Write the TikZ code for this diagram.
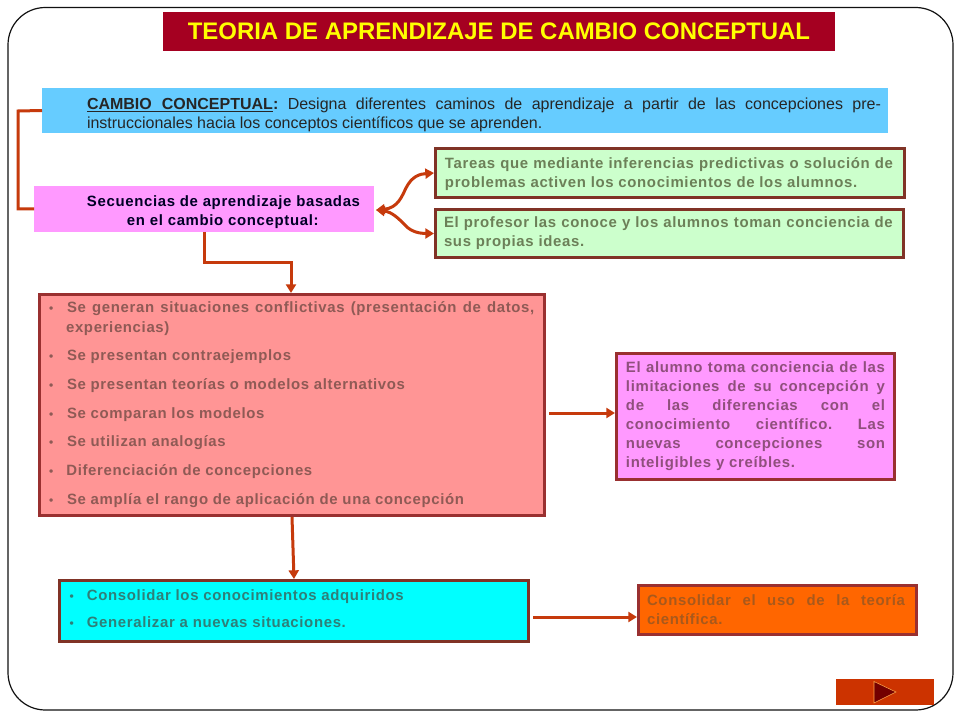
\documentclass[tikz,border=0pt]{standalone}
\usepackage{fontspec}
\setmainfont{Liberation Sans}
\newfontfamily\spaced[LetterSpace=4.4]{Liberation Sans}
\usetikzlibrary{arrows.meta}
\definecolor{framec}{HTML}{111111}
\definecolor{titlered}{HTML}{A50021}
\definecolor{titleyel}{HTML}{FFFF00}
\definecolor{bluefill}{HTML}{66CCFF}
\definecolor{pinkfill}{HTML}{FF99FF}
\definecolor{greenfill}{HTML}{CCFFCC}
\definecolor{redfill}{HTML}{FF9595}
\definecolor{cyanfill}{HTML}{00FFFF}
\definecolor{orangefill}{HTML}{FF6600}
\definecolor{borderA}{HTML}{803326}
\definecolor{borderB}{HTML}{993030}
\definecolor{linkc}{HTML}{C63A0C}
\definecolor{btnc}{HTML}{CC3300}
\definecolor{greentext}{HTML}{6C8058}
\definecolor{redtext}{HTML}{8F5A55}
\definecolor{pinktext}{HTML}{8F4F7C}
\definecolor{cyantext}{HTML}{2F7F78}
\definecolor{orangetext}{HTML}{A8591C}
\newcommand{\NS}{\spaceskip=0pt\xspaceskip=0pt\frenchspacing}
\newcommand{\JL}[3]{\hspace*{#1}\makebox[#2][s]{\NS #3}}
\newcommand{\BL}[3]{\hspace*{#1}\makebox[#2][l]{\fontsize{9}{9}\selectfont •}#3}
\tikzset{
  plain/.style={inner sep=0pt,outer sep=0pt,align=left,execute at begin node={\NS}},
  framed/.style={plain,draw,line width=2.25pt,outer sep=1.125pt},
  body/.style={font=\fontsize{11.2}{14.25}\spaced\bfseries},
  conn/.style={draw=linkc,line width=2.25pt},
  tip/.tip={Triangle[length=6.5pt,width=7.5pt]},
}
\begin{document}
\begin{tikzpicture}[x=0.75pt,y=-0.75pt]
\useasboundingbox (0,0) rectangle (960,720);
\fill[white] (0,0) rectangle (960,720);
\draw[framec,line width=0.9pt,rounded corners=28pt] (8,7.5) rectangle (953,710);

\node[plain,fill=titlered,text=titleyel,minimum width=504pt,minimum height=29.25pt,font=\fontsize{17.95}{22}\selectfont\bfseries,align=center] (title) at (499,31.5) {\NS TEORIA DE APRENDIZAJE DE CAMBIO CONCEPTUAL};

\node[plain,fill=bluefill,text=black!85,minimum height=33.75pt,text width=634.5pt,font=\fontsize{12}{14.25}\selectfont] (blue) at (465,110.5)
 {\hspace*{33.75pt}\makebox[595.5pt][s]{\NS\underline{\makebox[139.5pt][s]{\NS\bfseries CAMBIO CONCEPTUAL}}\textbf{:} Designa diferentes caminos de aprendizaje a partir de las concepciones pre-}\\
  \hspace*{33.75pt}instruccionales hacia los conceptos científicos que se aprenden.\par\vspace*{-6.8pt}};

\node[plain,body,fill=pinkfill,text=black!85!blue,minimum height=34.5pt,text width=255pt] (pink) at (204,209)
 {\hspace*{39.75pt}Secuencias de aprendizaje basadas\\ \hspace*{69.75pt}en el cambio conceptual:\par\vspace*{-4.5pt}};

\node[framed,body,draw=borderA,fill=greenfill,text=greentext,minimum height=36.75pt,text width=351.75pt] (green1) at (670,173)
 {\JL{7.1pt}{336pt}{Tareas que mediante inferencias predictivas o solución de}\\
  \hspace*{7.1pt}problemas activen los conocimientos de los alumnos.\par\vspace*{-1.5pt}};

\node[framed,body,draw=borderA,fill=greenfill,text=greentext,minimum height=36pt,text width=351pt] (green2) at (669.5,233.5)
 {\JL{6.4pt}{336.5pt}{El profesor las conoce y los alumnos toman conciencia de}\\
  \hspace*{6.4pt}sus propias ideas.};

\node[framed,body,draw=borderB,fill=redfill,text=redtext,minimum height=165.75pt,text width=379.125pt] (red) at (291.75,405)
 {\BL{7.5pt}{13.5pt}{\makebox[350.5pt][s]{\NS Se generan situaciones conflictivas (presentación de datos,}}\\[0.6pt]
  \hspace*{20.3pt}experiencias)\\[7.4pt]
  \BL{7.5pt}{13.5pt}{Se presentan contraejemplos}\\[7.25pt]
  \BL{7.5pt}{13.5pt}{Se presentan teorías o modelos alternativos}\\[7.25pt]
  \BL{7.5pt}{13.5pt}{Se comparan los modelos}\\[7.25pt]
  \BL{7.5pt}{13.5pt}{Se utilizan analogías}\\[7.25pt]
  \BL{7.5pt}{13pt}{Diferenciación de concepciones}\\[7.25pt]
  \BL{7.5pt}{13.5pt}{Se amplía el rango de aplicación de una concepción}\par\vspace*{1pt}};

\node[framed,body,draw=borderB,fill=pinkfill,text=pinktext,minimum height=94.5pt,text width=208.5pt] (pinkb) at (755.5,416.5)
 {\JL{7.1pt}{194.25pt}{El alumno toma conciencia de las}\\
  \JL{7.1pt}{194.25pt}{limitaciones de su concepción y}\\
  \JL{7.1pt}{194.25pt}{de las diferencias con el}\\
  \JL{7.1pt}{194.25pt}{conocimiento científico. Las}\\
  \JL{7.1pt}{194.25pt}{nuevas concepciones son}\\
  \hspace*{7.1pt}inteligibles y creíbles.};

\node[framed,body,draw=borderA,fill=cyanfill,text=cyantext,minimum height=45.75pt,text width=351.75pt] (cyan) at (294,611)
 {\BL{7.5pt}{13.1pt}{Consolidar los conocimientos adquiridos}\\[6pt]
  \BL{7.5pt}{13.1pt}{Generalizar a nuevas situaciones.}\par\vspace*{3pt}};

\node[framed,body,draw=borderB,fill=orangefill,text=orangetext,minimum height=36.75pt,text width=208.5pt] (orange) at (777.5,610)
 {\JL{6.4pt}{193.5pt}{Consolidar el uso de la teoría}\\
  \hspace*{6.4pt}científica.};

\node[plain,fill=btnc,minimum width=73.5pt,minimum height=19.5pt] (button) at (885,692) {};
\draw[draw=orange!70!white,line width=0.4pt,fill=red!45!black] (874,681.5) -- (896,692) -- (874,703) -- cycle;

% connectors
\coordinate (lbar) at (18,111);
\draw[conn] (blue.west) -- (lbar) |- (pink.west);
\coordinate (benda) at (204,263);
\coordinate (bendb) at (291,263);
\draw[conn,-tip] (pink.south -| benda) -- (benda) -- (bendb) -- (red.north -| bendb);
\coordinate (fork) at (376,210);
\coordinate (upm) at (406,188);
\coordinate (lom) at (405,225);
\draw[conn,tip-tip] (fork) .. controls (398,208) and (402,196) .. (upm) .. controls (412,176) and (420,174) .. (green1.west);
\draw[conn,tip-tip] (fork) .. controls (392,212) and (398,218) .. (lom) .. controls (411,232) and (420,233.5) .. (green2.west);
\coordinate (ra) at (549,413);
\draw[conn,-tip] (ra) -- (ra -| pinkb.west);
\coordinate (rb) at (292,517);
\draw[conn,-tip] (red.south -| rb) -- (cyan.north);
\coordinate (rc) at (533,617);
\draw[conn,-tip] (rc) -- (rc -| orange.west);
\end{tikzpicture}
\end{document}
